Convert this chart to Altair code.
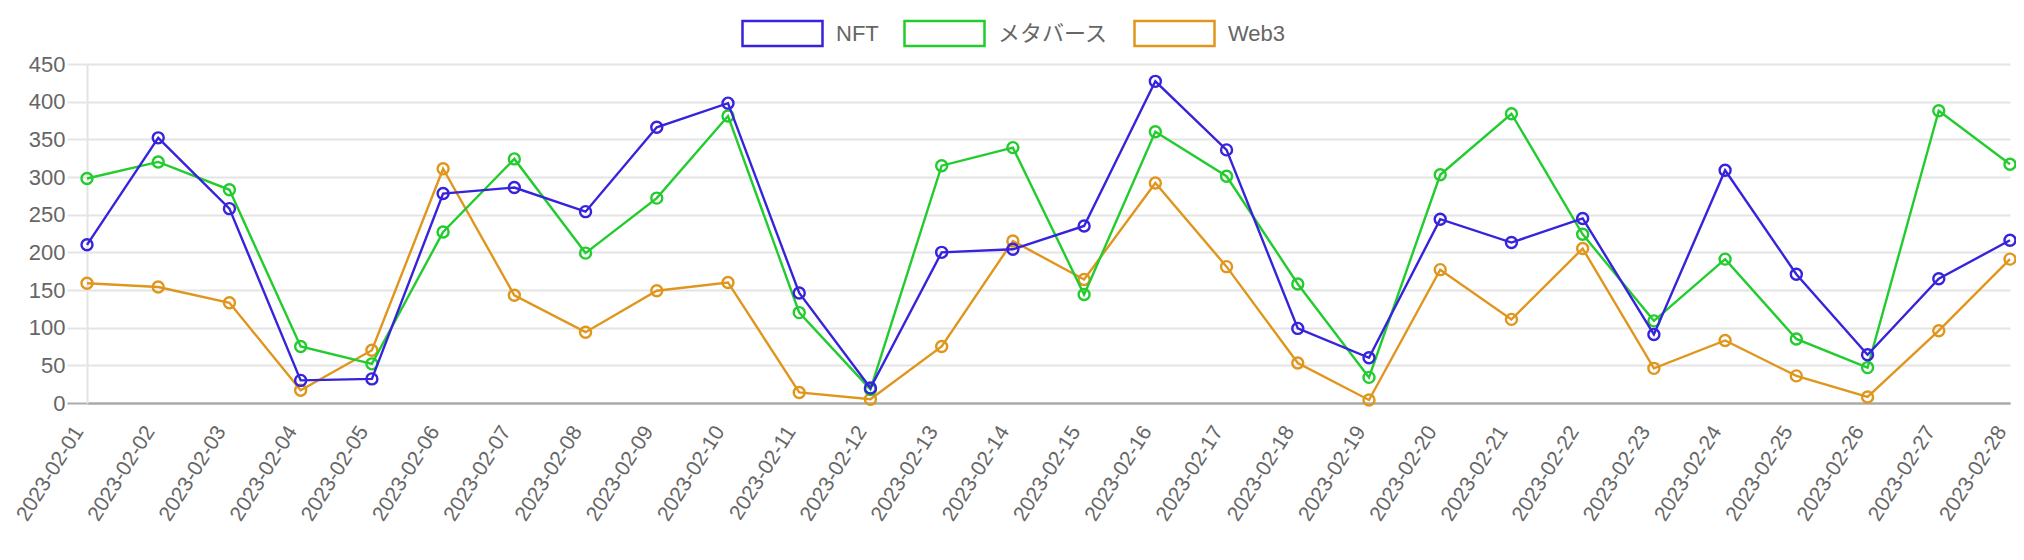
import altair as alt
import pandas as pd

dates = ["2023-02-01", "2023-02-02", "2023-02-03", "2023-02-04", "2023-02-05",
         "2023-02-06", "2023-02-07", "2023-02-08", "2023-02-09", "2023-02-10",
         "2023-02-11", "2023-02-12", "2023-02-13", "2023-02-14", "2023-02-15",
         "2023-02-16", "2023-02-17", "2023-02-18", "2023-02-19", "2023-02-20",
         "2023-02-21", "2023-02-22", "2023-02-23", "2023-02-24", "2023-02-25",
         "2023-02-26", "2023-02-27", "2023-02-28"]

nft = [210, 352, 258, 30, 32, 278, 286, 254, 366, 398, 146, 20, 200, 204, 235,
       427, 336, 99, 60, 244, 213, 245, 91, 309, 171, 64, 165, 216]
metaverse = [298, 320, 283, 75, 52, 227, 324, 199, 272, 381, 120, 18, 315, 339, 144,
             360, 301, 158, 34, 303, 384, 224, 109, 191, 85, 47, 388, 317]
web3 = [159, 154, 133, 17, 70, 311, 143, 94, 149, 160, 14, 5, 75, 215, 164,
        292, 181, 53, 4, 177, 111, 205, 46, 83, 36, 8, 96, 191]

series_names = ["NFT", "メタバース", "Web3"]
series_values = [nft, metaverse, web3]
colors = ["#3623DB", "#22CC2E", "#E0961D"]
y_ticks = [0, 50, 100, 150, 200, 250, 300, 350, 400, 450]

rows = []
for name, vals in zip(series_names, series_values):
    for d, v in zip(dates, vals):
        rows.append({"date": d, "value": v, "series": name})
df = pd.DataFrame(rows)

FONT = "Liberation Sans, Noto Sans CJK JP, sans-serif"
GRID = "#e4e4e4"

base = alt.Chart(df).encode(
    x=alt.X("date:N", sort=dates,
            scale=alt.Scale(type="point", padding=0),
            axis=alt.Axis(title=None, labelAngle=-58, labelAlign="right",
                          labelBaseline="bottom", ticks=False, grid=False,
                          domainColor="#aaaaaa", domainWidth=2, labelPadding=30,
                          labelFontSize=21, labelColor="#666666", labelFont=FONT)),
    y=alt.Y("value:Q", scale=alt.Scale(domain=[0, 450], nice=False),
            axis=alt.Axis(title=None, values=y_ticks, tickSize=20,
                          tickColor={"condition": {"test": "datum.value === 0", "value": "#aaaaaa"}, "value": GRID},
                          gridColor={"condition": {"test": "datum.value === 0", "value": "#aaaaaa"}, "value": GRID},
                          tickWidth=2, gridWidth=2,
                          domainColor=GRID, domainWidth=2, labelPadding=2,
                          labelFontSize=22, labelColor="#666666", labelFont=FONT)),
    color=alt.Color("series:N",
                    scale=alt.Scale(domain=series_names, range=colors),
                    legend=alt.Legend(title=None, orient="none", direction="horizontal",
                                      legendX=654, legendY=-72,
                                      symbolType="M-1,-0.3125H1V0.3125H-1Z",
                                      symbolSize=6400, symbolStrokeWidth=2.5,
                                      labelFontSize=22, labelColor="#666666", labelFont=FONT,
                                      labelOffset=12, columnPadding=20, padding=0)),
)

layers = []
for name in reversed(series_names):
    sub = base.transform_filter(alt.datum.series == name)
    layers.append(sub.mark_line(strokeWidth=2.4))
    layers.append(sub.mark_point(filled=False, size=121, strokeWidth=2.4, opacity=1))

chart = alt.layer(*layers).properties(
    width=1923, height=339,
    autosize=alt.AutoSizeParams(type="none"),
    padding={"left": 79, "top": 56, "right": 6, "bottom": 140},
).configure_view(stroke=None)

chart.save("out.html", embed_options={"renderer": "svg", "actions": False})
